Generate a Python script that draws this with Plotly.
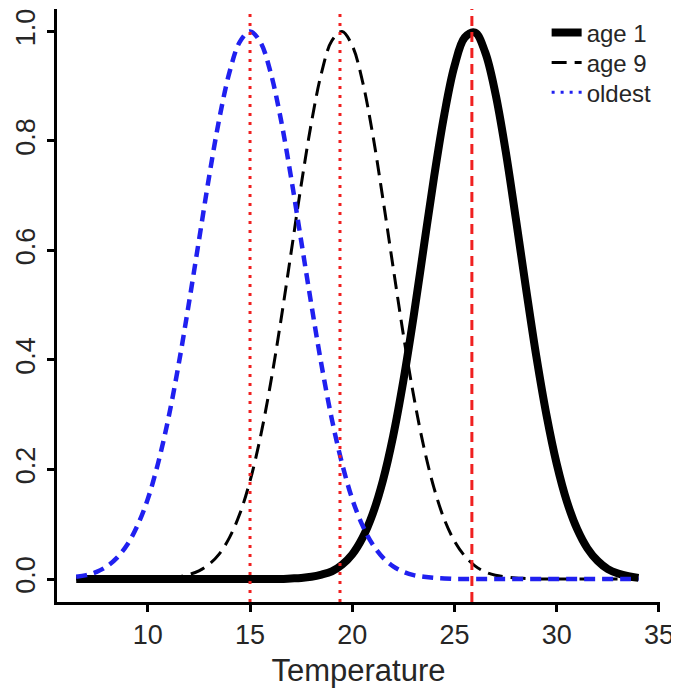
import plotly.graph_objects as go

# temperature grid the curves were read at
temperature = [6.5, 7.0, 7.5, 8.0, 8.5, 9.0, 9.5, 10.0, 10.5, 11.0,
               11.5, 12.0, 12.5, 13.0, 13.5, 14.0, 14.5, 15.0, 15.5, 16.0,
               16.5, 17.0, 17.5, 18.0, 18.5, 19.0, 19.5, 20.0, 20.5, 21.0,
               21.5, 22.0, 22.5, 23.0, 23.5, 24.0, 24.5, 25.0, 25.5, 26.0,
               26.5, 27.0, 27.5, 28.0, 28.5, 29.0, 29.5, 30.0, 30.5, 31.0,
               31.5, 32.0, 32.5, 33.0, 33.5, 34.0]

age1 = [0.000, 0.000, 0.000, 0.000, 0.000, 0.000, 0.000, 0.000, 0.000, 0.000,
        0.000, 0.000, 0.000, 0.000, 0.000, 0.000, 0.000, 0.000, 0.000, 0.000,
        0.000, 0.001, 0.002, 0.004, 0.008, 0.014, 0.026, 0.045, 0.075, 0.119,
        0.180, 0.261, 0.362, 0.479, 0.607, 0.734, 0.848, 0.937, 0.989, 0.998,
        0.962, 0.887, 0.782, 0.658, 0.530, 0.407, 0.299, 0.210, 0.141, 0.091,
        0.056, 0.033, 0.018, 0.010, 0.005, 0.002]

age9 = [0.000, 0.000, 0.000, 0.000, 0.000, 0.000, 0.000, 0.000, 0.001, 0.002,
        0.004, 0.008, 0.015, 0.027, 0.046, 0.076, 0.119, 0.179, 0.258, 0.356,
        0.470, 0.594, 0.719, 0.833, 0.925, 0.983, 1.000, 0.974, 0.909, 0.812,
        0.694, 0.569, 0.446, 0.335, 0.241, 0.166, 0.109, 0.069, 0.042, 0.024,
        0.013, 0.007, 0.004, 0.002, 0.001, 0.000, 0.000, 0.000, 0.000, 0.000,
        0.000, 0.000, 0.000, 0.000, 0.000, 0.000]

oldest = [0.004, 0.007, 0.013, 0.023, 0.039, 0.063, 0.098, 0.146, 0.211, 0.292,
          0.390, 0.501, 0.618, 0.735, 0.841, 0.926, 0.981, 1.000, 0.981, 0.926,
          0.841, 0.735, 0.618, 0.501, 0.390, 0.292, 0.211, 0.146, 0.098, 0.063,
          0.039, 0.023, 0.013, 0.007, 0.004, 0.002, 0.001, 0.000, 0.000, 0.000,
          0.000, 0.000, 0.000, 0.000, 0.000, 0.000, 0.000, 0.000, 0.000, 0.000,
          0.000, 0.000, 0.000, 0.000, 0.000, 0.000]

# optimum temperatures marked in red
peak_temps = [15.0, 19.4, 25.85]
peak_dash = ["3px,6px", "3px,6px", "10px,6px"]

x_ticks = [10, 15, 20, 25, 30, 35]
y_ticks = [0.0, 0.2, 0.4, 0.6, 0.8, 1.0]

FONT = "Liberation Sans, Arial, Helvetica, sans-serif"
TEXT = "#262626"
BLUE = "#2020f0"

fig = go.Figure()

# one legend per entry so the rows sit as tight as in the original
fig.add_trace(go.Scatter(x=temperature, y=age1, name="age 1", mode="lines",
                         legend="legend",
                         line=dict(color="black", width=8, shape="spline")))
fig.add_trace(go.Scatter(x=temperature, y=age9, name="age 9", mode="lines",
                         legend="legend2",
                         line=dict(color="black", width=3, dash="15px,8px",
                                   shape="spline")))
fig.add_trace(go.Scatter(x=temperature, y=oldest, name="oldest", mode="lines",
                         showlegend=False,
                         line=dict(color=BLUE, width=4.5, dash="11px,7px",
                                   shape="spline")))
# legend entry for "oldest" is dotted in the original
fig.add_trace(go.Scatter(x=[None], y=[None], name="oldest", mode="lines",
                         legend="legend3",
                         line=dict(color=BLUE, width=3, dash="3px,6px")))

for t, d in zip(peak_temps, peak_dash):
    fig.add_vline(x=t, line=dict(color="#f02020", width=3, dash=d))

leg = dict(x=0.812, xanchor="left", yanchor="middle",
           bgcolor="rgba(0,0,0,0)", font=dict(size=24, color=TEXT))

# page body adds an 8px offset, margins are set against that
fig.update_layout(
    width=679, height=691,
    margin=dict(l=49, r=27, t=1, b=97),
    paper_bgcolor="white", plot_bgcolor="white",
    font=dict(family=FONT, color=TEXT, size=27),
    legend=dict(leg, y=0.9595),
    legend2=dict(leg, y=0.909),
    legend3=dict(leg, y=0.859),
)
fig.update_xaxes(range=[5.56, 35.05], tickvals=x_ticks,
                 showline=True, linecolor="black", linewidth=3,
                 ticks="outside", ticklen=7, tickwidth=3, tickcolor="black",
                 showgrid=False, zeroline=False,
                 title=dict(text="Temperature", font=dict(size=31), standoff=10))
fig.update_yaxes(range=[-0.042, 1.041], tickvals=y_ticks, tickformat=".1f",
                 tickangle=-90, ticklabelstandoff=1,
                 showline=True, linecolor="black", linewidth=3,
                 ticks="outside", ticklen=7, tickwidth=3, tickcolor="black",
                 showgrid=False, zeroline=False)

fig.write_html("out.html")
